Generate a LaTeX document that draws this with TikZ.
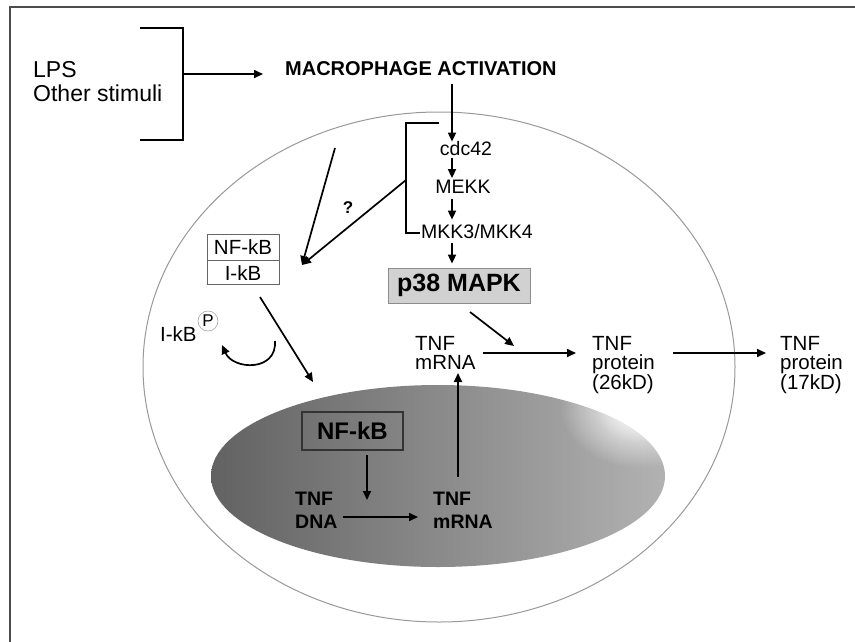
\documentclass[tikz,border=0pt]{standalone}
\usepackage{fontspec}
\setmainfont{Liberation Sans}
\usetikzlibrary{arrows.meta,fadings}
\tikzfading[name=softglow, inner color=transparent!0, outer color=transparent!100]
\begin{document}
\begin{tikzpicture}[x=1pt,y=-1pt,
  arr/.style={line width=1.7pt,-{Triangle[length=9pt,width=8pt]}},
  ln/.style={line width=1.5pt},
  t/.style={inner sep=0pt,font=\fontsize{20.5}{19}\selectfont},
  tb/.style={inner sep=0pt,font=\bfseries\fontsize{19.5}{23}\selectfont},
  kin/.style={inner sep=0pt,font=\fontsize{19.5}{20}\selectfont},
]
\useasboundingbox (0,0) rectangle (855,641);
\clip (0,0) rectangle (855,641);
\fill[white] (0,0) rectangle (855,641);
% frame
\draw[line width=2pt,black!70] (10,660) -- (10,7) -- (870,7);
% cell
\draw[black!40,line width=1pt] (439,367) ellipse [x radius=296,y radius=255];
% nucleus
\begin{scope}
\clip (438,476) ellipse [x radius=227, y radius=91];
\shade[left color=black!62, right color=black!30] (205,380) rectangle (670,570);
\fill[white,path fading=softglow] (640,408) ellipse [x radius=80,y radius=60];
\fill[white,opacity=0.6,path fading=softglow] (640,408) ellipse [x radius=45,y radius=35];
\end{scope}

% stimuli
\node[t,font=\fontsize{23}{24}\selectfont,align=left,anchor=west] (lps) at (33,82) {LPS\\Other stimuli};
\coordinate (brtl) at (140,28);
\coordinate (brtr) at (183,28);
\coordinate (brbr) at (183,140);
\coordinate (brbl) at (140,140);
\coordinate (brk) at (183,74);
\draw[ln] (brtl) -- (brtr) -- (brbr) -- (brbl);
\node[inner sep=0pt,font=\bfseries\fontsize{20}{20}\selectfont,anchor=west] (mac) at (285,68.5) {MACROPHAGE ACTIVATION};
\coordinate (macin) at (263,74);
\draw[arr] (brk) -- (macin);

% kinase cascade
\node[kin] (cdc) at (466,149) {cdc42};
\node[kin] (mekk) at (463,187) {MEKK};
\node[kin,anchor=west] (mkk) at (421,232) {MKK3/MKK4};
\node[draw=black!45,fill=black!18,line width=0.8pt,minimum width=142pt,minimum height=35pt,inner sep=0pt,font=\bfseries\fontsize{25}{26}\selectfont] (p38) at (459,285.5) {p38 MAPK};
\coordinate (col) at (452,84);
\draw[arr] (col) -- (col |- cdc.north);
\draw[arr,shorten <=2pt,shorten >=2pt] (col |- cdc.south) -- (col |- mekk.north);
\draw[arr,shorten <=5pt,shorten >=5pt] (col |- mekk.south) -- (col |- mkk.north);
\draw[arr,shorten <=4pt,shorten >=4pt] (col |- mkk.south) -- (col |- p38.north);
\coordinate (kbt) at (439,123);
\coordinate (kbtl) at (406,123);
\coordinate (kbbl) at (406,233);
\coordinate (kbb) at (420,233);
\coordinate (kq) at (406,180);
\draw[line width=1.3pt] (kbt) -- (kbtl) -- (kbbl) -- (kbb);

% NF-kB / I-kB complex
\node[t,draw=black!60,line width=0.8pt,minimum width=72pt,minimum height=26pt] (nfc) at (243,247) {NF-kB};
\node[t,draw=black!60,line width=0.8pt,minimum width=72pt,minimum height=24pt,anchor=north] (ikb) at (nfc.south) {I-kB};
\coordinate (stim) at (335,148);
\coordinate (nfin) at (302,265);
\draw[arr] (stim) -- (nfin);
\draw[arr] (kq) -- (nfin);
\node[inner sep=0pt,font=\bfseries\fontsize{17}{18}\selectfont] (q) at (348,208) {?};
\coordinate (cx1) at (260,297);
\coordinate (cx2) at (313,382);
\draw[arr] (cx1) -- (cx2);

% phosphorylated I-kB
\node[t,anchor=west] (ikbp) at (160,334) {I-kB};
\node[circle,draw=black!35,line width=0.6pt,minimum size=20pt,inner sep=0pt,font=\fontsize{17}{17}\selectfont] (ph) at (208,321) {P};
\coordinate (cv1) at (275,341);
\coordinate (cv2) at (222,345);
\draw[arr] (cv1) .. controls (277,372) and (233,370) .. (cv2);

% nucleus contents
\node[draw=black!80,line width=1.2pt,minimum width=101pt,minimum height=38pt,inner sep=0pt,font=\bfseries\fontsize{24}{24}\selectfont] (nfn) at (352.5,431) {NF-kB};
\node[tb,align=left,anchor=north west] (dna) at (295,492) {TNF\\DNA};
\node[tb,align=left,anchor=north west] (nmrna) at (433,492) {TNF\\mRNA};
\coordinate (a1) at (367,455);
\coordinate (a2) at (367,500);
\draw[arr] (a1) -- (a2);
\coordinate (a3) at (343,517);
\coordinate (a4) at (418,517);
\draw[arr] (a3) -- (a4);
\coordinate (a5) at (458,477);
\coordinate (a6) at (458,373);
\draw[arr] (a5) -- (a6);

% cytoplasm
\node[t,align=left,anchor=north west] (cmrna) at (415,336) {TNF\\mRNA};
\coordinate (b1) at (470,312);
\coordinate (b2) at (514,346);
\draw[arr] (b1) -- (b2);
\coordinate (b3) at (483,353);
\coordinate (b4) at (576,353);
\draw[arr] (b3) -- (b4);
\node[t,align=left,anchor=north west] (p26) at (592,336) {TNF\\protein\\(26kD)};
\coordinate (b5) at (673,353);
\coordinate (b6) at (766,353);
\draw[arr] (b5) -- (b6);
\node[t,align=left,anchor=north west] (p17) at (780,336) {TNF\\protein\\(17kD)};
\end{tikzpicture}
\end{document}
